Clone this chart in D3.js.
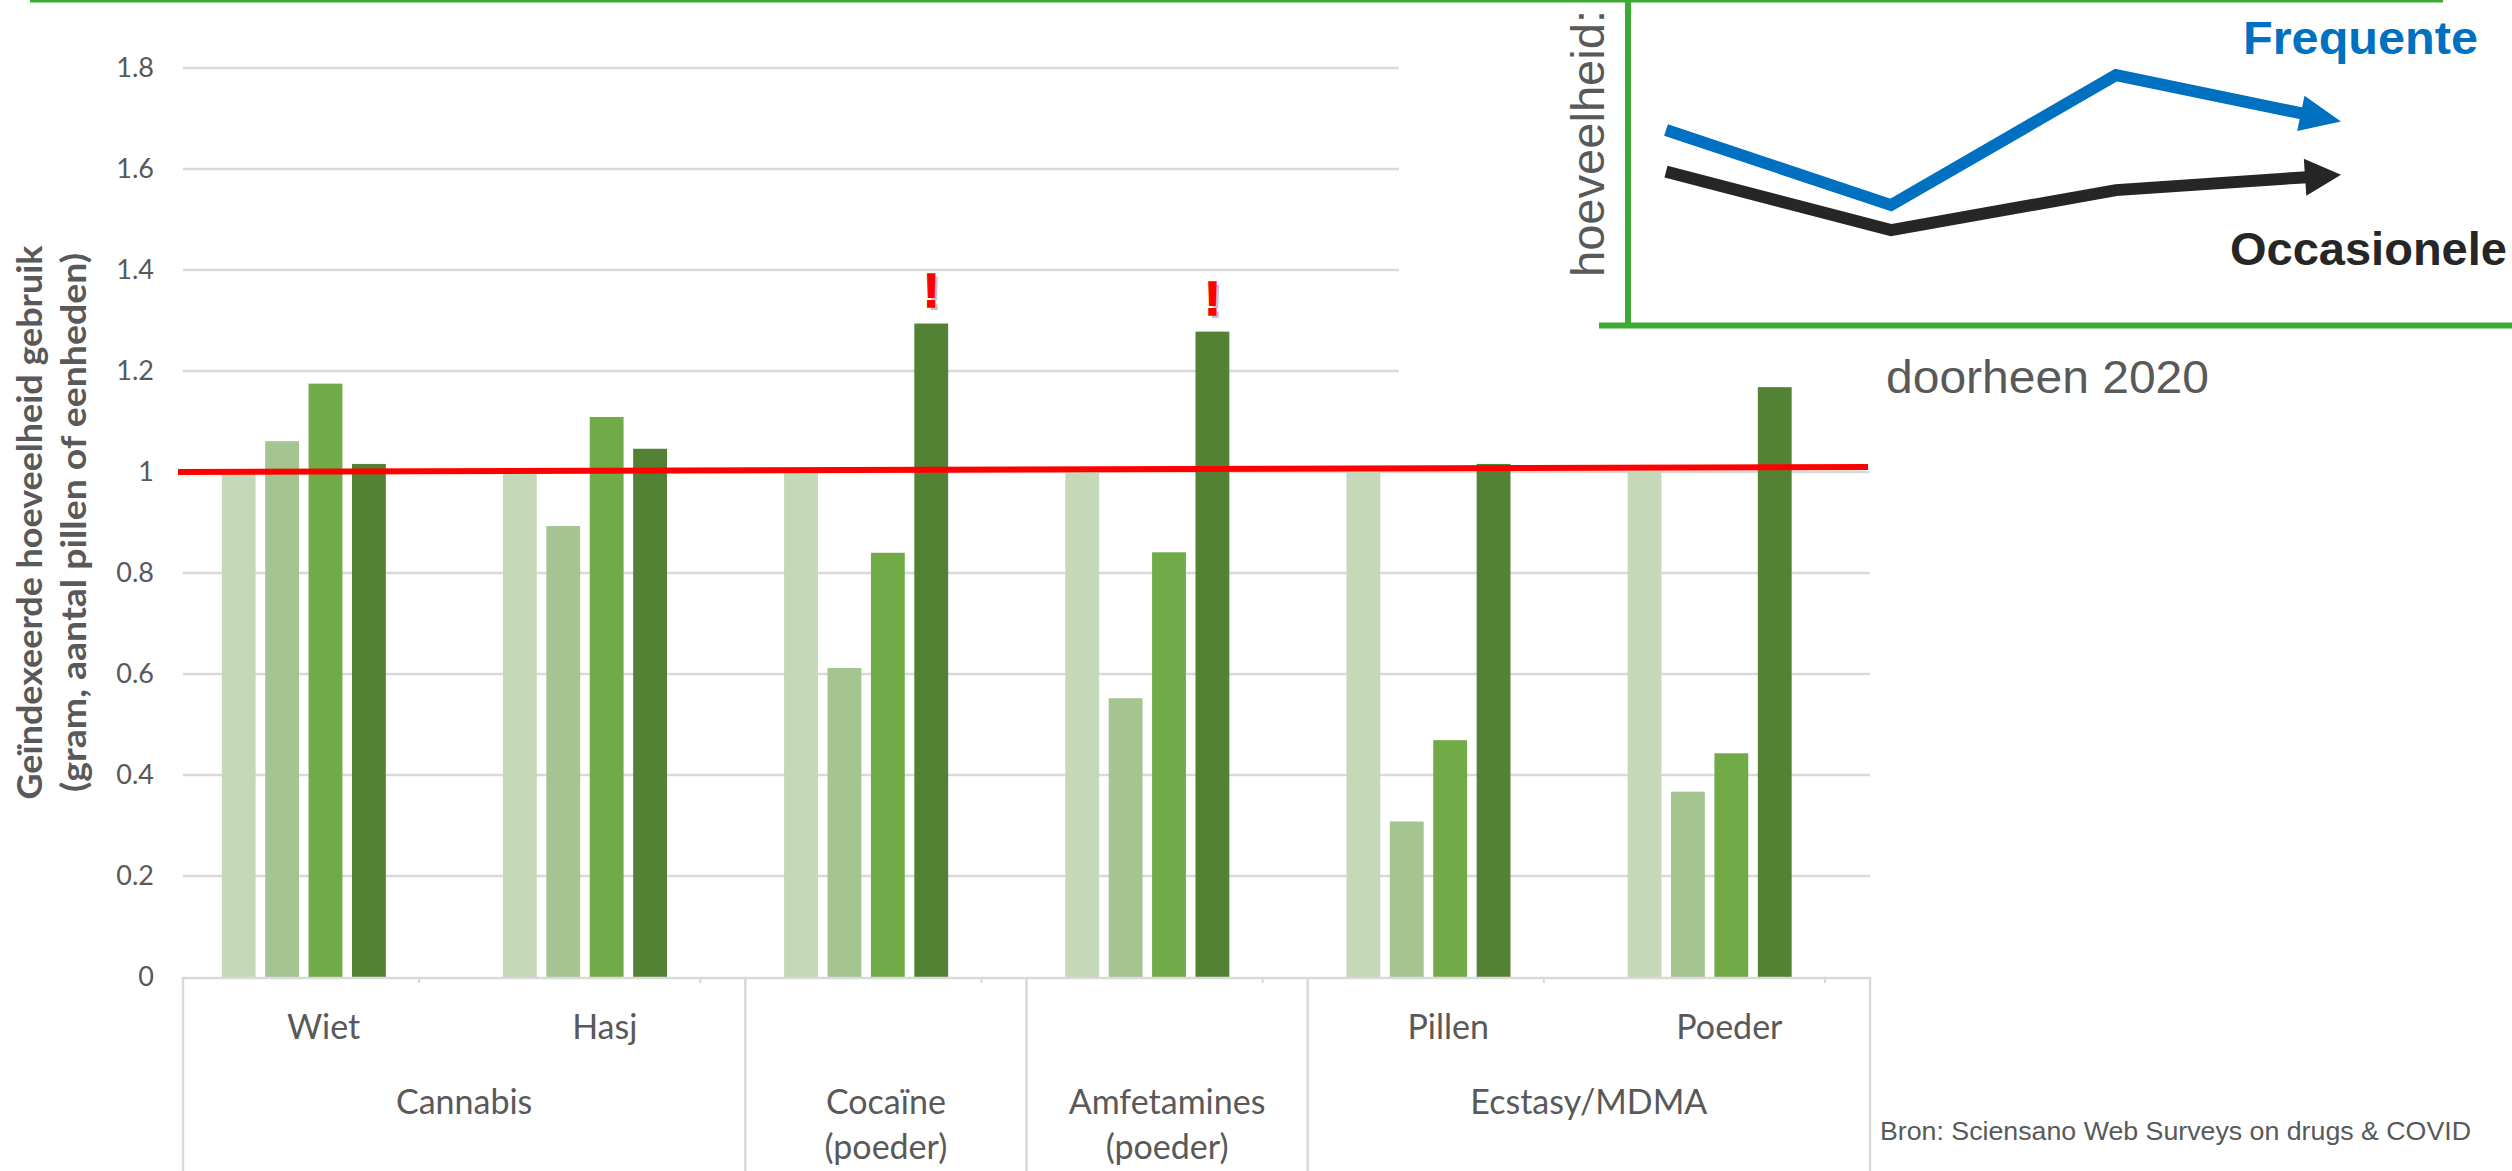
<!DOCTYPE html>
<html><head><meta charset="utf-8">
<script src="https://cdn.jsdelivr.net/npm/d3@7"></script>
<style>html,body{margin:0;padding:0;background:#fff;overflow:hidden}</style>
</head><body>
<svg id="chart" width="2512" height="1171"></svg>
<script>
// ---------- data ----------
const subCategories = ["Wiet", "Hasj", "Cocaïne", "Amfetamines", "Pillen", "Poeder"];
const subLabels = ["Wiet", "Hasj", "", "", "Pillen", "Poeder"];
const groupLabels = [["Cannabis"], ["Cocaïne", "(poeder)"], ["Amfetamines", "(poeder)"], ["Ecstasy/MDMA"]];
const groupSpans = [[0, 1], [2, 2], [3, 3], [4, 5]];

const period1 = [1.0, 1.0, 1.0, 1.0, 1.0, 1.0];
const period2 = [1.061, 0.893, 0.612, 0.552, 0.308, 0.367];
const period3 = [1.175, 1.109, 0.840, 0.841, 0.469, 0.443];
const period4 = [1.016, 1.046, 1.294, 1.278, 1.016, 1.168];

const yTicks = [0, 0.2, 0.4, 0.6, 0.8, 1.0, 1.2, 1.4, 1.6, 1.8];
const yTickLabels = ["0", "0.2", "0.4", "0.6", "0.8", "1", "1.2", "1.4", "1.6", "1.8"];
const yTitleLines = ["Geïndexeerde hoeveelheid gebruik", "(gram,  aantal pillen of eenheden)"];

const refLine = [1.0, 1.01];           // hand-drawn red reference line (left, right)
const alertCategories = ["Cocaïne", "Amfetamines"];

const insetTime = ["t1", "t2", "t3", "t4"];
const insetFrequente = [0.60, 0.369, 0.769, 0.626];
const insetOccasionele = [0.472, 0.292, 0.415, 0.462];

const sourceText = "Bron: Sciensano Web Surveys on drugs & COVID";

// ---------- setup ----------
const W = 2512, H = 1171;
const svg = d3.select("#chart");
const series = [period1, period2, period3, period4];
const barColors = ["#C5D9B9", "#A4C490", "#71AB48", "#548235"];
const grey = "#595959", gridC = "#D9D9D9";
const sans = "Lato, 'Open Sans', sans-serif";
const arial = "'Liberation Sans', Arial, sans-serif";
const green = "#3DAA35";

const x0 = d3.scaleBand().domain(subCategories).range([183, 1870]).padding(0);
const x1 = d3.scaleBand().domain([0, 1, 2, 3, 4]).range([34, 251]).paddingInner(0.22).paddingOuter(0.11);
const y = d3.scaleLinear().domain([0, 1.8]).range([977, 68]);
const bw = x0.bandwidth();

// gridlines
svg.append("g").selectAll("line").data(yTicks.filter(t => t > 0)).join("line")
  .attr("x1", x0.range()[0]).attr("x2", x0.range()[1])
  .attr("y1", d => y(d)).attr("y2", d => y(d))
  .attr("stroke", gridC).attr("stroke-width", 2.5);

// inset white backdrop hides upper-right gridlines
svg.append("rect").attr("x", 1399).attr("y", 0).attr("width", W - 1399).attr("height", 382).attr("fill", "#fff");

// y tick labels
svg.append("g").selectAll("text").data(yTicks).join("text")
  .attr("x", 154).attr("y", d => y(d)).attr("dy", "0.35em")
  .attr("text-anchor", "end").attr("font-family", sans).attr("font-size", 27).attr("fill", grey)
  .text((d, i) => yTickLabels[i]);

// y title
yTitleLines.forEach((t, i) => {
  svg.append("text")
    .attr("transform", `translate(${42 + i * 44},${(y(0) + y(1.8)) / 2}) rotate(-90)`)
    .attr("text-anchor", "middle").attr("font-family", sans).attr("font-weight", 700)
    .attr("font-size", 35).attr("fill", grey)
    .attr("textLength", i === 0 ? 554 : 539).attr("lengthAdjust", "spacingAndGlyphs")
    .text(t);
});

// bars
series.forEach((vals, s) => {
  svg.append("g").selectAll("rect").data(vals).join("rect")
    .attr("x", (d, i) => x0(subCategories[i]) + x1(s))
    .attr("y", d => y(d))
    .attr("width", x1.bandwidth())
    .attr("height", d => y(0) - y(d))
    .attr("fill", barColors[s]);
});

// category axis
svg.append("line").attr("x1", x0.range()[0]).attr("x2", x0.range()[1])
  .attr("y1", y(0) + 1).attr("y2", y(0) + 1).attr("stroke", gridC).attr("stroke-width", 2.5);
const dividers = groupSpans.map(s => x0(subCategories[s[0]])).concat([x0.range()[1]]);
svg.append("g").selectAll("line").data(dividers).join("line")
  .attr("x1", d => d).attr("x2", d => d).attr("y1", y(0)).attr("y2", H)
  .attr("stroke", gridC).attr("stroke-width", 2.5);
svg.append("g").selectAll("line").data(subCategories).join("line")
  .attr("x1", d => x0(d) + bw * 0.84).attr("x2", d => x0(d) + bw * 0.84)
  .attr("y1", y(0)).attr("y2", y(0) + 6).attr("stroke", gridC).attr("stroke-width", 2);
svg.append("g").selectAll("text").data(subLabels).join("text")
  .attr("x", (d, i) => x0(subCategories[i]) + bw / 2).attr("y", 1039)
  .attr("text-anchor", "middle").attr("font-family", sans).attr("font-size", 34).attr("fill", grey)
  .text(d => d);
groupLabels.forEach((lines, g) => {
  const [a, b] = groupSpans[g];
  const cx = (x0(subCategories[a]) + x0(subCategories[b]) + bw) / 2;
  lines.forEach((l, k) => {
    svg.append("text").attr("x", cx).attr("y", 1114 + k * 45)
      .attr("text-anchor", "middle").attr("font-family", sans).attr("font-size", 34).attr("fill", grey)
      .text(l);
  });
});

// red reference line
svg.append("line")
  .attr("x1", x0.range()[0] - 5).attr("x2", x0.range()[1] - 2)
  .attr("y1", y(refLine[0])).attr("y2", y(refLine[1]))
  .attr("stroke", "#FF0000").attr("stroke-width", 6);

// alert marks
alertCategories.forEach(c => {
  const i = subCategories.indexOf(c);
  const cx = x0(c) + x1(3) + x1.bandwidth() / 2;
  const by = y(period4[i]) - 17;
  svg.append("text").attr("x", cx + 3).attr("y", by + 3).attr("text-anchor", "middle")
    .attr("font-family", arial).attr("font-weight", 700).attr("font-size", 48)
    .attr("fill", "#9a9a9a").attr("opacity", 0.6).text("!");
  svg.append("text").attr("x", cx).attr("y", by).attr("text-anchor", "middle")
    .attr("font-family", arial).attr("font-weight", 700).attr("font-size", 48)
    .attr("fill", "#FF0000").attr("stroke", "#FF0000").attr("stroke-width", 1.5).text("!");
});

// ---------- inset ----------
svg.append("line").attr("x1", 30).attr("x2", 2443).attr("y1", 0).attr("y2", 0)
  .attr("stroke", green).attr("stroke-width", 5);
svg.append("line").attr("x1", 1628).attr("x2", 1628).attr("y1", 0).attr("y2", 328)
  .attr("stroke", green).attr("stroke-width", 6);
svg.append("line").attr("x1", 1599).attr("x2", W).attr("y1", 325.5).attr("y2", 325.5)
  .attr("stroke", green).attr("stroke-width", 6);

const xi = d3.scalePoint().domain(insetTime).range([1666, 2341]);
const yi = d3.scaleLinear().domain([0, 1]).range([325, 0]);

function arrowLine(vals, color, headLen, headW) {
  const pts = vals.map((v, i) => [xi(insetTime[i]), yi(v)]);
  const n = pts.length;
  const [tx, ty] = pts[n - 1], [px, py] = pts[n - 2];
  const len = Math.hypot(tx - px, ty - py), ux = (tx - px) / len, uy = (ty - py) / len;
  const base = [tx - ux * headLen, ty - uy * headLen];
  const linePts = pts.slice(0, n - 1).concat([[base[0] + ux * 2, base[1] + uy * 2]]);
  svg.append("path").attr("d", d3.line()(linePts)).attr("fill", "none")
    .attr("stroke", color).attr("stroke-width", 12).attr("stroke-linejoin", "miter").attr("stroke-miterlimit", 10);
  const nx = -uy, ny = ux;
  const tri = [[base[0] + nx * headW / 2, base[1] + ny * headW / 2], [tx, ty], [base[0] - nx * headW / 2, base[1] - ny * headW / 2]];
  svg.append("path").attr("d", d3.line()(tri) + "Z").attr("fill", color);
}
arrowLine(insetOccasionele, "#262626", 36, 37);
arrowLine(insetFrequente, "#0070C0", 41, 36);

svg.append("text").attr("transform", "translate(1604,277) rotate(-90)")
  .attr("font-family", arial).attr("font-size", 47).attr("fill", grey)
  .attr("textLength", 267).attr("lengthAdjust", "spacingAndGlyphs").text("hoeveelheid:");
svg.append("text").attr("x", 2243).attr("y", 54)
  .attr("font-family", arial).attr("font-weight", 700).attr("font-size", 47).attr("fill", "#0070C0")
  .attr("textLength", 235).attr("lengthAdjust", "spacingAndGlyphs").text("Frequente");
svg.append("text").attr("x", 2230).attr("y", 265)
  .attr("font-family", arial).attr("font-weight", 700).attr("font-size", 47).attr("fill", "#262626")
  .text("Occasionele");
svg.append("text").attr("x", 1886).attr("y", 393)
  .attr("font-family", arial).attr("font-size", 46).attr("fill", grey)
  .attr("textLength", 323).attr("lengthAdjust", "spacingAndGlyphs").text("doorheen 2020");
svg.append("text").attr("x", 1880).attr("y", 1140)
  .attr("font-family", arial).attr("font-size", 26).attr("fill", grey)
  .attr("textLength", 591).attr("lengthAdjust", "spacingAndGlyphs").text(sourceText);
</script>
</body></html>
